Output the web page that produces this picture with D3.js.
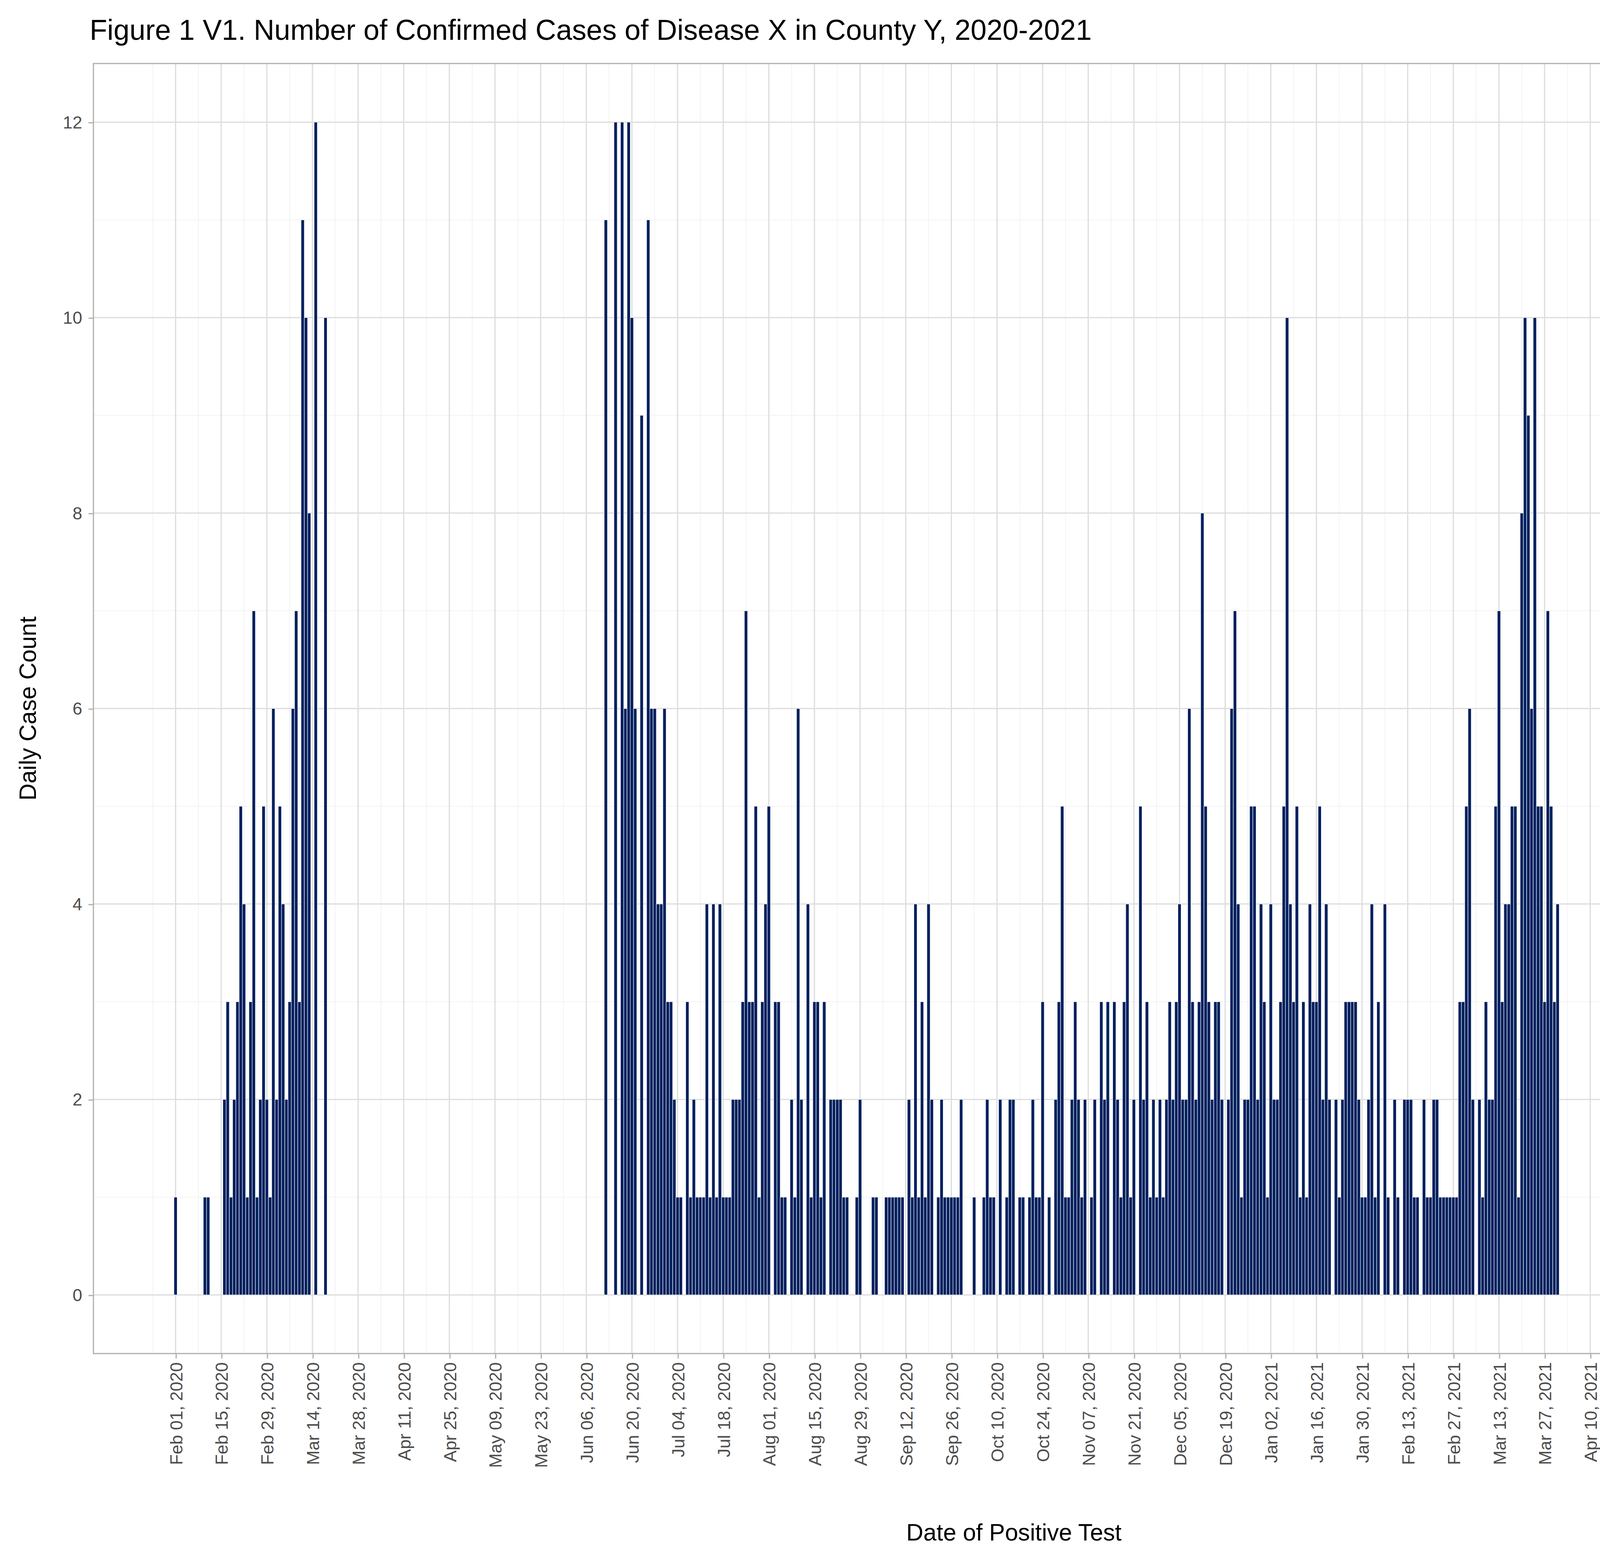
<!DOCTYPE html>
<html><head><meta charset="utf-8">
<script src="https://cdn.jsdelivr.net/npm/d3@7"></script>
<style>html,body{margin:0;padding:0;background:#fff;overflow:hidden}svg{display:block}</style>
</head><body>
<script>
// Daily counts per segment (0 = no case that day)
const seg1Start = "2020-02-01";
const seg1Counts = [1,0,0,0,0,0,0,0,0,1,1,0,0,0,0,2,3,1,2,3,5,4,1,3,7,1,2,5,2,1,6,2,5,4,2,3,6,7,3,11,10,8,0,12,0,0,10];
const seg2Start = "2020-06-12";
const seg2Counts = [
11,0,0,12,0,12,6,12,10,6,0,9,0,11,6,6,4,4,6,3,3,2,1,1,0,3,1,2,1,1,1,4,1,4,1,4,1,1,1,2,2,2,3,
7,3,3,5,1,3,4,5,0,3,3,1,1,0,2,1,6,2,0,4,1,3,3,1,3,0,2,2,2,2,1,1,0,0,1,2,0,0,0,1,1,0,0,1,1,1,1,1,1,0,
2,1,4,1,3,1,4,2,0,1,2,1,1,1,1,1,2,0,0,0,1,0,0,1,2,1,1,0,2,0,1,2,2,0,1,1,0,1,2,1,1,3,0,1,0,2,3,5,1,1,
2,3,2,1,2,0,1,2,0,3,2,3,0,3,2,1,3,4,1,2,0,5,2,3,1,2,1,2,1,2,3,2,3,4,2,2,6,3,2,3,8,5,3,2,3,3,2,0,2,6,
7,4,1,2,2,5,5,2,4,3,1,4,2,2,3,5,10,4,3,5,1,3,1,4,3,3,5,2,4,2,0,2,1,2,3,3,3,3,2,1,1,2,4,1,3,0,4,1,0,2,
1,0,2,2,2,1,1,0,2,1,1,2,2,1,1,1,1,1,1,3,3,5,6,2,0,2,1,3,2,2,5,7,3,4,4,5,5,1,8,10,9,6,10,5,5,3,7,5,3,4];
const seg3Start = "2021-05-01";
const seg3Counts = [12,0,7,0,0,10,0,0,0,12,0,6,8,9,0,0,0,0,10,12,0,0,7,7,10,0,11,7,4,7,7,0,4,4,6,3,3,3,4,3,7,3,3,2,5,5,4,4,1,3,5,2,1,2,3,0,0,1,0,0,1];
const yTicks = [0,2,4,6,8,10,12];
const xTickStart = "2020-02-01", xTickEnd = "2021-06-19";

const parse = d3.utcParse("%Y-%m-%d");
const DAY = 864e5;
function expand(start, counts){
  const s = parse(start);
  return counts.map((c,i)=>({date:new Date(s.getTime()+i*DAY), n:c})).filter(d=>d.n>0);
}
const data = [].concat(expand(seg1Start,seg1Counts), expand(seg2Start,seg2Counts), expand(seg3Start,seg3Counts));

const K=5000/1568;
const root=d3.select("body").append("svg").attr("width",5000).attr("height",4000);
root.append("rect").attr("width",5000).attr("height",4000).attr("fill","#fff");
const svg=root.append("g").attr("transform",`scale(${K})`);
const L=75,R=1553,T=51,B=1087;
const t0=parse(xTickStart);
const x=d3.scaleUtc().domain([new Date(t0.getTime()-25.2*DAY), new Date(t0.getTime()+539.6*DAY)]).range([L,R]);
const y=d3.scaleLinear().domain([-0.6,12.6]).range([B,T]);
const font="Liberation Sans, Arial, sans-serif";

const majorX=d3.utcDay.range(t0, new Date(parse(xTickEnd).getTime()+1), 1).filter((d,i)=>i%14===0);
const minorX=d3.utcDay.range(new Date(t0.getTime()-7*DAY), new Date(t0.getTime()+540*DAY)).filter((d,i)=>i%14===0)
  .filter(d=>x(d)>L&&x(d)<R);
const g=svg.append("g");
g.selectAll(".mnx").data(minorX).join("line").attr("x1",d=>x(d)).attr("x2",d=>x(d)).attr("y1",T).attr("y2",B).attr("stroke","#f0f0f0").attr("stroke-width",0.5);
g.selectAll(".mny").data([1,3,5,7,9,11]).join("line").attr("x1",L).attr("x2",R).attr("y1",d=>y(d)).attr("y2",d=>y(d)).attr("stroke","#f0f0f0").attr("stroke-width",0.5);
g.selectAll(".mjx").data(majorX).join("line").attr("x1",d=>x(d)).attr("x2",d=>x(d)).attr("y1",T).attr("y2",B).attr("stroke","#dedede").attr("stroke-width",1);
g.selectAll(".mjy").data(yTicks).join("line").attr("x1",L).attr("x2",R).attr("y1",d=>y(d)).attr("y2",d=>y(d)).attr("stroke","#dedede").attr("stroke-width",1);

const bw=x(new Date(t0.getTime()+DAY))-x(t0);
svg.append("g").selectAll("rect").data(data).join("rect")
  .attr("x",d=>x(d.date)-bw/2).attr("width",bw)
  .attr("y",d=>y(d.n)).attr("height",d=>y(0)-y(d.n))
  .attr("fill","#03205E").attr("stroke","#ffffff").attr("stroke-width",0.35);

svg.append("rect").attr("x",L).attr("y",T).attr("width",R-L).attr("height",B-T).attr("fill","none").attr("stroke","#b3b3b3").attr("stroke-width",1);

const ya=svg.append("g").attr("transform",`translate(${L},0)`)
  .call(d3.axisLeft(y).tickValues(yTicks).tickSize(4).tickPadding(5));
ya.select(".domain").remove();
ya.selectAll("line").attr("stroke","#b3b3b3");
ya.selectAll("text").attr("font-family",font).attr("font-size",14).attr("fill","#4d4d4d");
const xa=svg.append("g").attr("transform",`translate(0,${B})`)
  .call(d3.axisBottom(x).tickValues(majorX).tickFormat(d3.utcFormat("%b %d, %Y")).tickSize(4).tickPadding(5));
xa.select(".domain").remove();
xa.selectAll("line").attr("stroke","#b3b3b3");
xa.selectAll("text").attr("font-family",font).attr("font-size",14).attr("fill","#4d4d4d")
  .attr("transform","rotate(-90)").attr("text-anchor","end").attr("dx","-7").attr("dy","0.35em").attr("x",0).attr("y",0);

svg.append("text").attr("x",72).attr("y",32).attr("font-family",font).attr("font-size",23).attr("fill","#000")
  .text("Figure 1 V1. Number of Confirmed Cases of Disease X in County Y, 2020-2021");
svg.append("text").attr("x",814).attr("y",1237).attr("text-anchor","middle").attr("font-family",font).attr("font-size",19)
  .text("Date of Positive Test");
svg.append("text").attr("transform",`translate(29,${(T+B)/2}) rotate(-90)`).attr("text-anchor","middle").attr("font-family",font).attr("font-size",19)
  .text("Daily Case Count");
</script>
</body></html>
